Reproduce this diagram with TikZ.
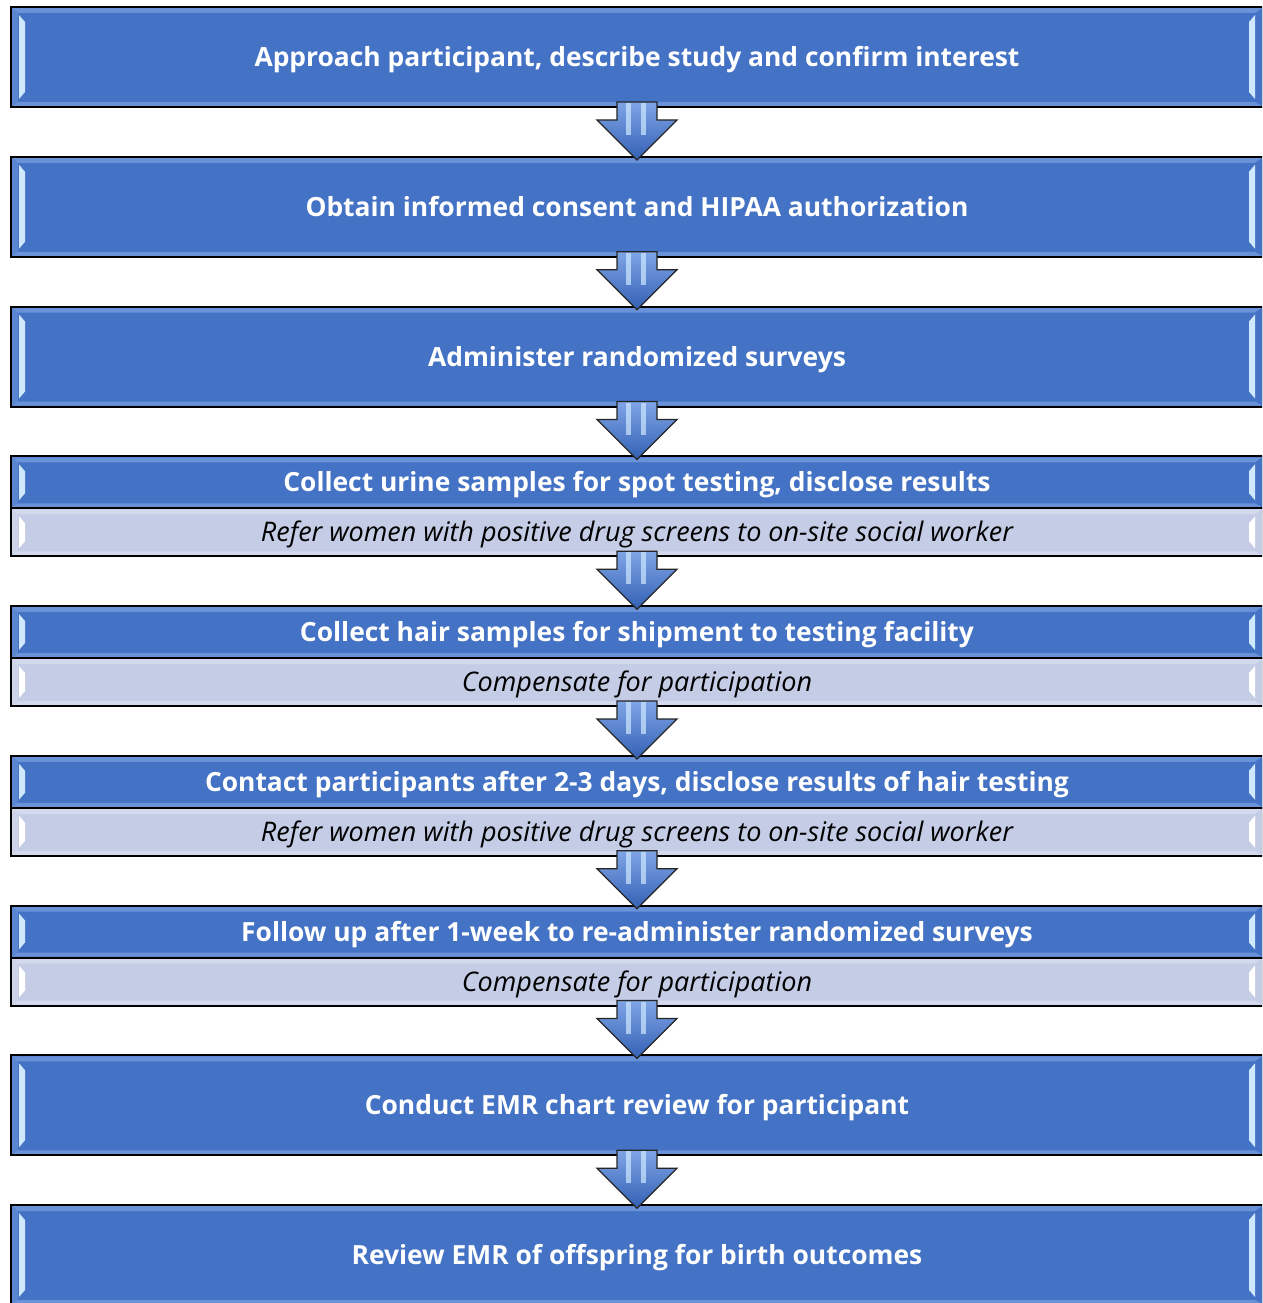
\documentclass[tikz,border=0pt]{standalone}
\usepackage{fontspec}
\setmainfont{Open Sans}
\usetikzlibrary{calc}
\definecolor{mainblue}{HTML}{4472C4}
\definecolor{bandblue}{HTML}{6A92D8}
\definecolor{lowblue}{HTML}{5A84CF}
\definecolor{lightrow}{HTML}{C4CCE6}
\definecolor{lightband}{HTML}{D3DAEE}
\definecolor{hilite}{HTML}{CFE8FF}
\definecolor{arrtop}{HTML}{7FA5E6}
\definecolor{arrbot}{HTML}{3360B4}
\tikzset{
  rowbox/.style={rectangle, minimum width=1252pt, inner sep=0pt, outer sep=0pt, text height=25pt, text depth=6pt},
  darkrow/.style={rowbox, fill=mainblue, text=white, font=\bfseries\fontsize{26.4}{30}\selectfont},
  paleRow/.style={rowbox, fill=lightrow, text=black, font=\itshape\fontsize{27}{30}\selectfont},
  frame/.style={draw=black, line width=2pt},
  flowarrow/.style={draw=black!85, line width=1.3pt, line join=miter, top color=arrtop, bottom color=arrbot},
  stripe/.style={fill=hilite, opacity=0.7},
}
% bevel: #1 top, #2 bottom, #3 band colour, #4 highlight colour
\newcommand\bevelrow[4]{%
  \fill[#3] (12,{#1+1}) -- (1262,{#1+1}) -- (1255,{#1+6}) -- (18,{#1+6}) -- cycle;
  \fill[#3] (12,{#2-1}) -- (1262,{#2-1}) -- (1255,{#2-5}) -- (18,{#2-5}) -- cycle;
  \fill[#3,opacity=0.6] (12,{#1+1}) -- (18,{#1+6}) -- (18,{#2-5}) -- (12,{#2-1}) -- cycle;
  \fill[#4] (19,{#1+8}) -- (25,{#1+15}) -- (25,{#2-15}) -- (19,{#2-8}) -- cycle;
  \fill[#4] (1255,{#1+8}) -- (1249,{#1+15}) -- (1249,{#2-15}) -- (1255,{#2-8}) -- cycle;
}
\newcommand\fullbox[3]{%
  \node[darkrow, minimum height=100pt] (#1) at (637,{#2+50}) {#3};
  \bevelrow{#2}{#2+100}{bandblue}{hilite}
  \draw[frame] (#1.north west) rectangle (#1.south east);
}
\newcommand\splitbox[4]{%
  \node[darkrow, minimum height=52pt] (#1a) at (637,{#2+26}) {#3};
  \node[paleRow, minimum height=48pt] (#1b) at (637,{#2+76}) {#4};
  \bevelrow{#2}{#2+52}{bandblue}{hilite}
  \bevelrow{#2+52}{#2+100}{lightband}{white}
  \draw[frame] (#1a.north west) rectangle (#1b.south east);
  \draw[frame] (#1a.south west) -- (#1a.south east);
  \coordinate (#1) at (#1a.north);
}
\newcommand\flowarrow[1]{%
  \path let \p1 = (#1) in coordinate (tmpA) at (637,\y1);
  \draw[flowarrow] ($(tmpA)+(-20,-5)$) -- ($(tmpA)+(20,-5)$) -- ($(tmpA)+(20,13)$) -- ($(tmpA)+(40,13)$)
     -- ($(tmpA)+(0,53)$) -- ($(tmpA)+(-40,13)$) -- ($(tmpA)+(-20,13)$) -- cycle;
  \fill[stripe] ($(tmpA)+(-11,-4)$) rectangle ($(tmpA)+(-6,28)$);
  \fill[stripe] ($(tmpA)+(4,-4)$) rectangle ($(tmpA)+(9,28)$);
}
\begin{document}
\begin{tikzpicture}[x=1pt,y=-1pt]
\useasboundingbox (0,0) rectangle (1262,1303);
\fill[white] (0,0) rectangle (1262,1303);
\begin{scope}
\clip (0,0) rectangle (1262,1303);
\fullbox{b1}{7}{Approach participant, describe study and confirm interest}
\fullbox{b2}{156.75}{Obtain informed consent and HIPAA authorization}
\fullbox{b3}{306.5}{Administer randomized surveys}
\splitbox{b4}{456.25}{Collect urine samples for spot testing, disclose results}{Refer women with positive drug screens to on-site social worker}
\splitbox{b5}{606}{Collect hair samples for shipment to testing facility}{Compensate for participation}
\splitbox{b6}{755.75}{Contact participants after 2-3 days, disclose results of hair testing}{Refer women with positive drug screens to on-site social worker}
\splitbox{b7}{905.5}{Follow up after 1-week to re-administer randomized surveys}{Compensate for participation}
\fullbox{b8}{1055.25}{Conduct EMR chart review for participant}
\fullbox{b9}{1205}{Review EMR of offspring for birth outcomes}
\flowarrow{b1.south}
\flowarrow{b2.south}
\flowarrow{b3.south}
\flowarrow{b4b.south}
\flowarrow{b5b.south}
\flowarrow{b6b.south}
\flowarrow{b7b.south}
\flowarrow{b8.south}
\end{scope}
\end{tikzpicture}
\end{document}
